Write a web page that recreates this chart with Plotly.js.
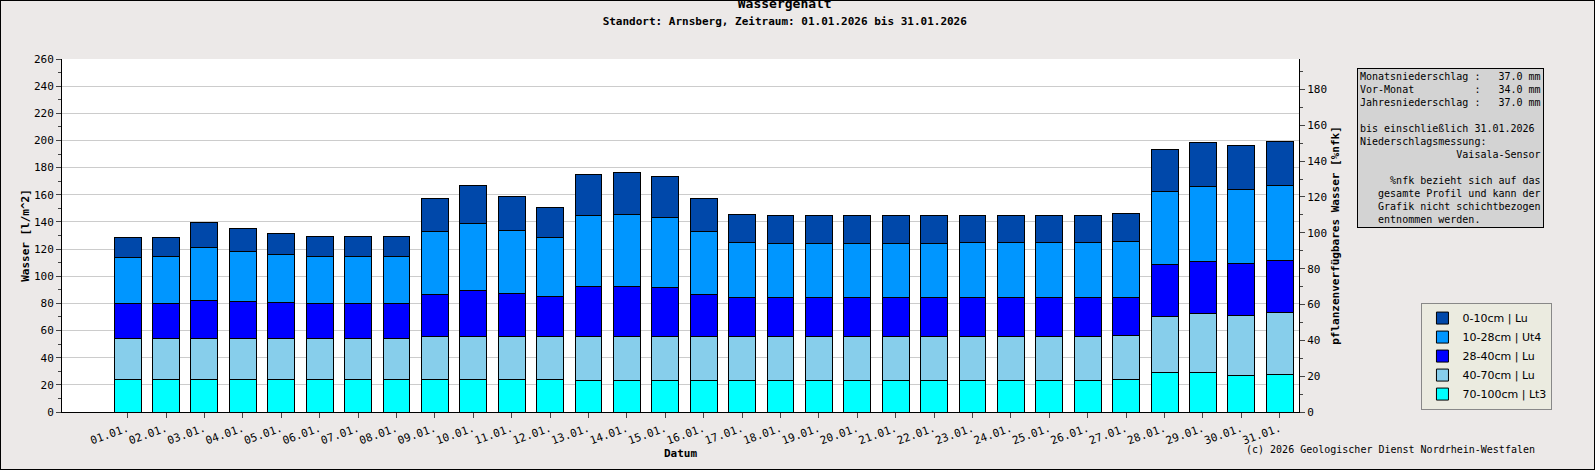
<!DOCTYPE html>
<html>
<head>
<meta charset="utf-8">
<script src="https://cdn.plot.ly/plotly-3.0.1.min.js"></script>
<style>
  html, body { margin: 0; padding: 0; background: #ece9e8; }
  #chart { width: 1595px; height: 470px; box-sizing: border-box; border: 1px solid #000; }
</style>
</head>
<body>
<div id="chart"></div>
<script>
// cumulative tops, per layer (bottom to top)
const days = ['01.01.','02.01.','03.01.','04.01.','05.01.','06.01.','07.01.','08.01.','09.01.','10.01.',
              '11.01.','12.01.','13.01.','14.01.','15.01.','16.01.','17.01.','18.01.','19.01.','20.01.',
              '21.01.','22.01.','23.01.','24.01.','25.01.','26.01.','27.01.','28.01.','29.01.','30.01.','31.01.'];

const l70_100 = [23.6,23.6,23.6,23.6,23.6,23.6,23.6,23.6,23.6,23.6,23.6,23.6,23.5,23.5,23.5,23.5,23.5,23.5,23.5,23.5,
                 23.5,23.5,23.5,23.5,23.5,23.5,23.6,29.4,29.4,27.2,27.9];
const l40_70 = [30.8,30.8,30.8,30.8,30.8,30.8,30.8,30.8,31.8,31.8,31.8,31.8,32.4,32.4,32.4,32.4,32.4,32.4,32.4,32.4,
                32.4,32.4,32.4,32.4,32.4,32.4,33.0,41.1,43.3,44.1,45.5];
const l28_40 = [25.6,25.6,27.6,27.0,26.2,25.6,25.6,25.6,31.0,33.9,32.0,29.6,36.6,36.6,35.9,30.9,28.1,28.1,28.1,28.1,
                28.1,28.1,28.1,28.1,28.1,28.1,28.1,37.8,38.3,38.2,38.3];
const l10_28 = [34.0,34.6,39.0,36.6,35.4,34.6,34.6,34.6,46.2,49.7,46.6,43.3,52.0,53.0,51.8,45.8,40.7,40.2,40.2,40.2,
                40.2,40.2,40.7,40.7,40.7,40.7,40.7,54.0,54.9,54.7,54.9];
const l0_10 = [14.3,13.7,18.4,17.0,15.2,14.4,14.4,14.4,24.6,27.6,24.6,22.4,30.6,31.2,29.6,24.7,21.1,20.2,20.2,20.2,
               20.2,20.2,19.7,19.7,19.7,19.7,21.1,31.0,32.5,32.0,32.5];

const layers = [
    ['70-100cm | Lt3', l70_100, '#00ffff'],
    ['40-70cm | Lu', l40_70, '#87ceeb'],
    ['28-40cm | Lu', l28_40, '#0000ff'],
    ['10-28cm | Ut4', l10_28, '#0096ff'],
    ['0-10cm | Lu', l0_10, '#0048aa']
];

const mono = 'DejaVu Sans Mono';
const nb = s => s.replace(/ /g, '\u00a0');

var data = layers.map(function(l) {
    return {
        type: 'bar',
        x: days,
        y: l[1],
        name: l[0],
        marker: { color: l[2], line: { color: '#000', width: 1 } },
        width: 0.7
    };
});
// keeps the right axis drawn
data.push({ type: 'scatter', x: [days[0]], y: [null], yaxis: 'y2', showlegend: false, hoverinfo: 'skip' });

var infoLines = [
    'Monatsniederschlag :   37.0 mm',
    'Vor-Monat          :   34.0 mm',
    'Jahresniederschlag :   37.0 mm',
    '',
    'bis einschließlich 31.01.2026 ',
    'Niederschlagsmessung:         ',
    '                Vaisala-Sensor',
    '',
    '     %nfk bezieht sich auf das',
    '   gesamte Profil und kann der',
    '   Grafik nicht schichtbezogen',
    '   entnommen werden.          '
];

var layout = {
    width: 1593,
    height: 468,
    paper_bgcolor: '#ece9e8',
    plot_bgcolor: '#ffffff',
    barmode: 'stack',
    margin: { l: 61, r: 295, t: 58, b: 57 },
    font: { family: mono, size: 11, color: '#000' },
    title: {
        text: '<b>Wassergehalt</b><br><span style="font-size:11px"><b>Standort: Arnsberg, Zeitraum: 01.01.2026 bis 31.01.2026</b></span>',
        x: 0.492, xref: 'container', y: 0.985, yref: 'container', yanchor: 'top',
        font: { family: mono, size: 13 }
    },
    xaxis: {
        type: 'category',
        title: { text: '<b>Datum</b>', font: { size: 11 }, standoff: 2 },
        tickangle: -20,
        ticks: 'outside', ticklen: 5,
        showline: true, linecolor: '#000',
        tickfont: { size: 11 },
        automargin: false
    },
    yaxis: {
        title: { text: '<b>Wasser [l/m^2]</b>', font: { size: 11 } },
        range: [0, 260], dtick: 20,
        ticks: 'outside', ticklen: 5,
        minor: { dtick: 10, ticks: 'outside', ticklen: 3, showgrid: false },
        showline: true, linecolor: '#000',
        gridcolor: '#cccccc',
        automargin: false
    },
    yaxis2: {
        title: { text: '<b>pflanzenverfügbares Wasser [%nfk]</b>', font: { size: 11 } },
        overlaying: 'y', side: 'right',
        range: [0, 197], dtick: 20,
        ticks: 'outside', ticklen: 5,
        minor: { dtick: 10, ticks: 'outside', ticklen: 3 },
        showline: true, linecolor: '#000',
        showgrid: false, zeroline: false,
        automargin: false
    },
    showlegend: true,
    legend: {
        traceorder: 'reversed',
        x: 1.099, xanchor: 'left', y: 0.31, yanchor: 'top',
        bgcolor: '#ebebe0', bordercolor: '#888', borderwidth: 1,
        font: { family: 'DejaVu Sans', size: 11 },
        itemwidth: 30
    },
    annotations: [
        {
            xref: 'paper', yref: 'paper', x: 1.047, y: 0.975, xanchor: 'left', yanchor: 'top',
            text: infoLines.map(nb).join('<br>'),
            showarrow: false, align: 'left',
            bgcolor: '#d3d3d3', bordercolor: '#000', borderwidth: 1, borderpad: 2,
            font: { family: mono, size: 10 }
        },
        {
            xref: 'paper', yref: 'paper', x: 1.192, y: -0.085, xanchor: 'right', yanchor: 'top',
            text: '(c) 2026 Geologischer Dienst Nordrhein-Westfalen',
            showarrow: false, font: { family: mono, size: 10 }
        }
    ]
};

Plotly.newPlot('chart', data, layout, { displayModeBar: false, staticPlot: true });
</script>
</body>
</html>
